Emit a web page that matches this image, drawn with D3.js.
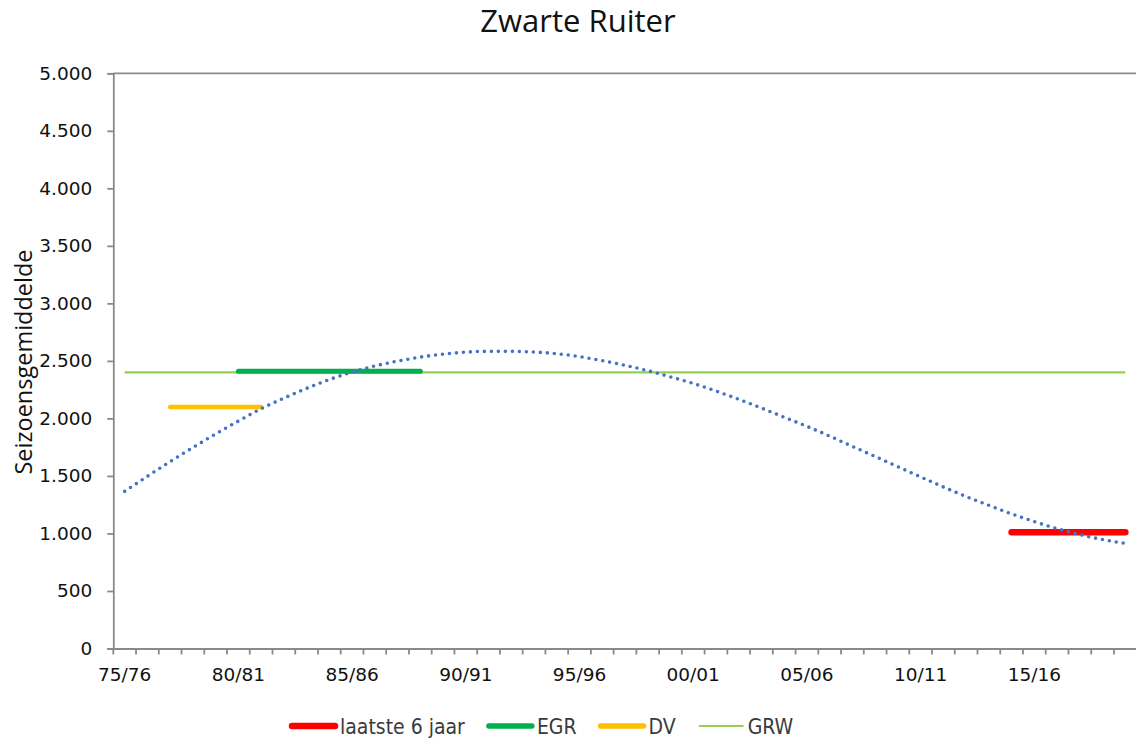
<!DOCTYPE html>
<html>
<head>
<meta charset="utf-8">
<script src="https://cdn.jsdelivr.net/npm/d3@7"></script>
<style>
  html, body { margin: 0; padding: 0; background: #fff; }
  svg { display: block; }
  .tick text { fill: #111; }
</style>
</head>
<body>
<script>
// seasons on the category axis
const seasons = [
  "75/76", "76/77", "77/78", "78/79", "79/80", "80/81", "81/82", "82/83", "83/84", "84/85",
  "85/86", "86/87", "87/88", "88/89", "89/90", "90/91", "91/92", "92/93", "93/94", "94/95",
  "95/96", "96/97", "97/98", "98/99", "99/00", "00/01", "01/02", "02/03", "03/04", "04/05",
  "05/06", "06/07", "07/08", "08/09", "09/10", "10/11", "11/12", "12/13", "13/14", "14/15",
  "15/16", "16/17", "17/18", "18/19", "19/20"
];
const labelledSeasons = ["75/76", "80/81", "85/86", "90/91", "95/96", "00/01", "05/06", "10/11", "15/16"];

// trend line (dotted) per season
const trend = [
  1366, 1497, 1625, 1747, 1865, 1977, 2084, 2176, 2261, 2338,
  2403, 2456, 2498, 2533, 2559, 2576, 2583, 2583, 2577, 2562,
  2537, 2502, 2461, 2415, 2361, 2304, 2238, 2166, 2090, 2010,
  1931, 1846, 1757, 1669, 1580, 1491, 1404, 1321, 1244, 1170,
  1103, 1042, 990, 947, 914
];

// horizontal levels
const levelNames = ["laatste 6 jaar", "EGR", "DV", "GRW"];
const levelValues = [1010, 2410, 2100, 2400];
const levelFrom = ["14/15", "80/81", "77/78", "75/76"];
const levelTo = ["19/20", "88/89", "81/82", "19/20"];

const yTicks = [0, 500, 1000, 1500, 2000, 2500, 3000, 3500, 4000, 4500, 5000];

const styles = {
  "laatste 6 jaar": { color: "#ff0000", width: 6.5, cap: "round" },
  "EGR": { color: "#00b050", width: 5, cap: "round" },
  "DV": { color: "#ffc000", width: 4.5, cap: "round" },
  "GRW": { color: "#92d050", width: 2.2, cap: "butt" }
};

const width = 1136, height = 738;
const margin = { top: 73.3, right: -0.7, bottom: 89.5, left: 113.3 };
const innerW = width - margin.left - margin.right;
const innerH = height - margin.top - margin.bottom;

const nl = d3.formatLocale({ decimal: ",", thousands: ".", grouping: [3], currency: ["€", ""] });
const fmt = nl.format(",");

const svg = d3.select("body").append("svg")
    .attr("width", width)
    .attr("height", height);

svg.append("text")
    .attr("x", 578)
    .attr("y", 32)
    .attr("text-anchor", "middle")
    .style("font-family", "'Open Sans', 'Noto Sans', sans-serif")
    .style("font-size", "31px")
    .style("fill", "#111")
    .text("Zwarte Ruiter");

const g = svg.append("g")
    .attr("transform", `translate(${margin.left},${margin.top})`);

const x = d3.scaleBand().domain(seasons).range([0, innerW]).padding(0);
const y = d3.scaleLinear().domain([0, 5000]).range([innerH, 0]);
const cx = s => x(s) + x.bandwidth() / 2;

const axisColor = "#8a8a8a";
const tickFont = "'DejaVu Sans', Verdana, sans-serif";

// plot border (top and right)
g.append("line")
    .attr("x1", 0).attr("x2", innerW)
    .attr("y1", y(5000)).attr("y2", y(5000))
    .attr("stroke", axisColor).attr("stroke-width", 1.8);
g.append("line")
    .attr("x1", innerW).attr("x2", innerW)
    .attr("y1", y(5000)).attr("y2", y(0))
    .attr("stroke", "#d0d0d0").attr("stroke-width", 1);

// y axis
let yAxis = g.append("g")
    .call(d3.axisLeft(y).tickValues(yTicks).tickFormat(fmt).tickSize(6).tickPadding(15));
yAxis.select(".domain").attr("stroke", axisColor).attr("stroke-width", 1.8);
yAxis.selectAll(".tick line").attr("stroke", axisColor).attr("stroke-width", 1.8);
yAxis.selectAll(".tick text")
    .style("font-family", tickFont)
    .style("font-size", "18.5px");

// x axis: labels at category centres, tick marks between categories
let xAxis = g.append("g")
    .attr("transform", `translate(0,${innerH})`)
    .call(d3.axisBottom(x).tickValues(labelledSeasons).tickSize(0).tickPadding(19));
xAxis.select(".domain").attr("stroke", axisColor).attr("stroke-width", 1.8);
xAxis.selectAll(".tick text")
    .style("font-family", tickFont)
    .style("font-size", "18.5px");
xAxis.selectAll(".sep")
    .data(seasons)
  .enter().append("line")
    .attr("class", "sep")
    .attr("x1", d => x(d)).attr("x2", d => x(d))
    .attr("y1", 0).attr("y2", 6)
    .attr("stroke", axisColor).attr("stroke-width", 1.8);

// horizontal levels, GRW at the bottom
const order = [3, 2, 1, 0];
g.selectAll(".level")
    .data(order)
  .enter().append("line")
    .attr("class", "level")
    .attr("x1", i => cx(levelFrom[i]))
    .attr("x2", i => cx(levelTo[i]))
    .attr("y1", i => y(levelValues[i]))
    .attr("y2", i => y(levelValues[i]))
    .attr("stroke", i => styles[levelNames[i]].color)
    .attr("stroke-width", i => styles[levelNames[i]].width)
    .attr("stroke-linecap", i => styles[levelNames[i]].cap);

// dotted trend line on top
const line = d3.line()
    .x((d, i) => cx(seasons[i]))
    .y(d => y(d))
    .curve(d3.curveMonotoneX);

g.append("path")
    .datum(trend)
    .attr("d", line)
    .attr("fill", "none")
    .attr("stroke", "#4472c4")
    .attr("stroke-width", 3.6)
    .attr("stroke-linecap", "round")
    .attr("stroke-dasharray", "0 7");

// legend
const legend = svg.append("g")
    .attr("transform", "translate(290,726)");
let lx = 0;
levelNames.forEach(name => {
  const st = styles[name];
  legend.append("line")
      .attr("x1", lx + 2).attr("x2", lx + 45)
      .attr("y1", 0).attr("y2", 0)
      .attr("stroke", st.color)
      .attr("stroke-width", name === "GRW" ? 2.2 : (name === "laatste 6 jaar" ? 6.5 : 5.5))
      .attr("stroke-linecap", "round");
  const t = legend.append("text")
      .attr("x", lx + 50)
      .attr("y", 8)
      .style("font-family", "'DejaVu Sans Condensed', 'DejaVu Sans', sans-serif")
      .style("font-stretch", "condensed")
      .style("font-size", "21px")
      .style("fill", "#3a3a3a")
      .text(name);
  lx += 50 + t.node().getComputedTextLength() + 22;
});

// y axis title
svg.append("text")
    .attr("transform", "translate(32,362) rotate(-90)")
    .attr("text-anchor", "middle")
    .style("font-family", "'Liberation Sans Narrow', 'Open Sans', sans-serif")
    .style("font-size", "23.5px")
    .style("fill", "#111")
    .text("Seizoensgemiddelde");
</script>
</body>
</html>
